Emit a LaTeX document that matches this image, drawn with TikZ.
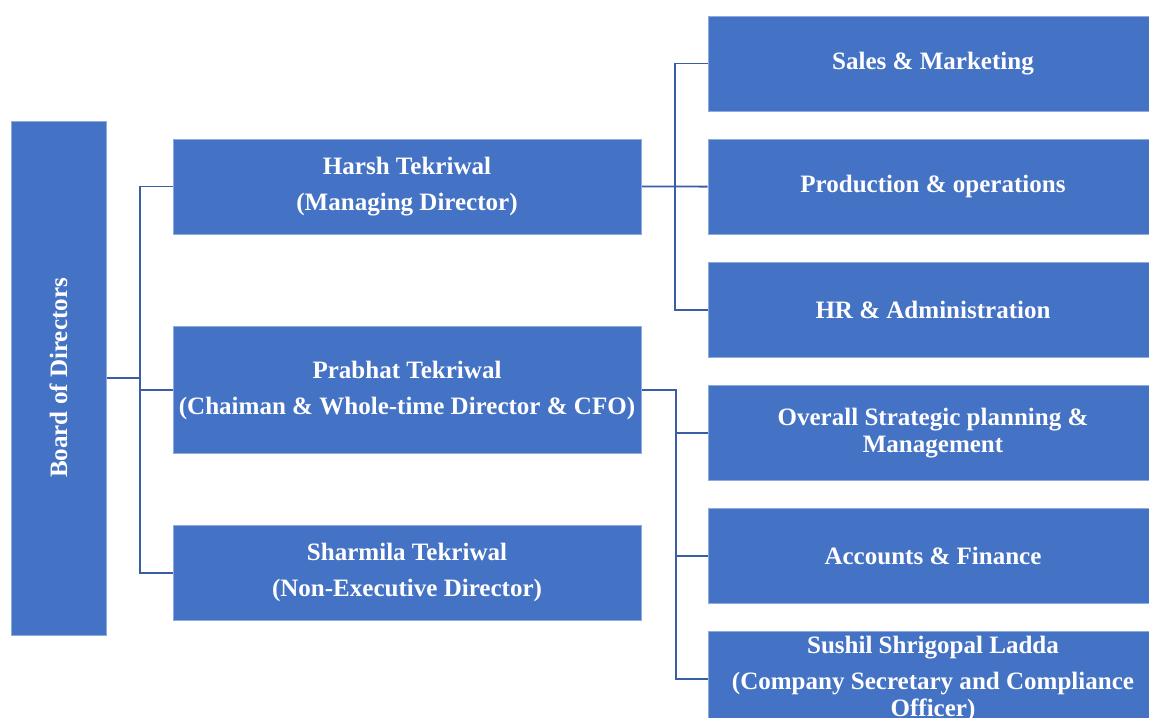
\documentclass[tikz,border=0pt]{standalone}
\usepackage{fontspec}
\setmainfont{Liberation Serif}
\usetikzlibrary{positioning, backgrounds}

\definecolor{boxblue}{HTML}{4472C4}
\definecolor{boxedge}{HTML}{8FAADC}
\definecolor{lineblue}{HTML}{3A5DA6}

\begin{document}
\begin{tikzpicture} [
    x=0.025cm, y=-0.025cm,
    node distance=0.6875cm,
    board/.style={rectangle, draw=boxedge, fill=boxblue, minimum width=2.375cm, minimum height=12.85cm, inner sep=0pt},
    bodtext/.style={text=white, font=\bfseries\fontsize{17.8}{19}\selectfont},
    member/.style={rectangle, draw=boxedge, fill=boxblue, minimum width=11.7cm, minimum height=2.375cm, inner sep=0pt, text=white, align=center, font=\bfseries\fontsize{17.8}{19}\selectfont},
    dept/.style={rectangle, draw=boxedge, fill=boxblue, minimum width=11.25cm, minimum height=2.375cm, inner sep=0pt, text=white, align=center, font=\bfseries\fontsize{17.8}{19}\selectfont},
    link/.style={draw=lineblue, line width=1.3pt}
]
\useasboundingbox (0,0) rectangle (1149,717);
\clip (0,0) rectangle (1149,717);

% Define all nodes first (foreground)
\node[board, label={[bodtext, rotate=90]center:Board of Directors}] (board) at (58.5,378) {};

\node[member] (harsh) at (407,186.5) {Harsh Tekriwal\\[6.5pt](Managing Director)};
\node[member, minimum height=3.175cm, below=2.3cm of harsh] (prabhat) {Prabhat Tekriwal\\[6.5pt](Chaiman \& Whole-time Director \& CFO)};
\node[member, below=1.775cm of prabhat] (sharmila) {Sharmila Tekriwal\\[6.5pt](Non-Executive Director)};

\node[dept] (sales) at (933,63.5) {Sales \& Marketing};
\node[dept, below=of sales] (production) {Production \& operations};
\node[dept, below=of production] (hr) {HR \& Administration};
\node[dept, below=of hr] (overall) {Overall Strategic planning \&\\Management};
\node[dept, below=of overall] (accounts) {Accounts \& Finance};
\node[dept, below=of accounts] (sushil) {Sushil Shrigopal Ladda\\[6.5pt](Company Secretary and Compliance\\Officer)};

% Draw all connectors in background
\begin{scope}[on background layer]
    \draw[link] (harsh.west) -- ++(-33,0) coordinate (bus1) |- (sharmila.west);
    \draw[link] (board.east) -- (bus1 |- board.east);
    \draw[link] (prabhat.west) -- (bus1 |- prabhat.west);

    \draw[link] (sales.west) -- ++(-33,0) coordinate (bus2) |- (hr.west);
    \draw[link] (harsh.east) -- (production.west);

    \draw[link] (prabhat.east) -- ++(35,0) coordinate (bus3) |- (sushil.west);
    \draw[link] (overall.west) -- (bus3 |- overall.west);
    \draw[link] (accounts.west) -- (bus3 |- accounts.west);
\end{scope}

\end{tikzpicture}
\end{document}
